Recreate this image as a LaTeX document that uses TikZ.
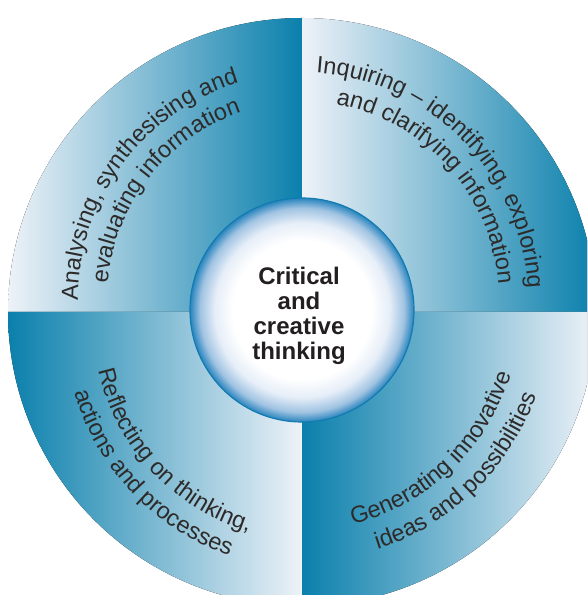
\documentclass[tikz,border=0pt]{standalone}
\usepackage{fontspec}
\usetikzlibrary{decorations.text}
\newfontfamily\arialfont{Liberation Sans}

\definecolor{qdark}{RGB}{10,128,172}
\definecolor{qmid}{RGB}{132,166,202}
\definecolor{qlight}{RGB}{238,242,248}
\definecolor{glowedge}{RGB}{40,132,190}
\definecolor{glowmid}{RGB}{160,195,226}
\definecolor{glowlight}{RGB}{230,238,248}
\definecolor{ringline}{RGB}{18,124,178}
\definecolor{labeltext}{RGB}{45,42,42}
\definecolor{coretext}{RGB}{35,31,32}

\pgfdeclareradialshading{coreglow}{\pgfpoint{0bp}{0bp}}{color(0bp)=(white); color(15.5bp)=(white); color(19.5bp)=(glowlight); color(22.8bp)=(glowmid); color(25bp)=(glowedge); color(50bp)=(glowedge)}

\newcommand{\quadfont}{\arialfont\fontsize{23.5}{28}\selectfont\color{labeltext}}

\begin{document}
\begin{tikzpicture}[x=1pt, y=1pt]
    % Styles
    \tikzstyle{faderight} = [left color=qlight, middle color=qmid, right color=qdark]
    \tikzstyle{fadeleft} = [left color=qdark, middle color=qmid, right color=qlight]
    \tikzstyle{core} = [align=center, text=coretext, font=\arialfont\bfseries\fontsize{24}{24.8}\selectfont]
    \tikzset{arctext/.style={decorate, decoration={text along path, text align=center, text={|\quadfont|#1}}}}

    \useasboundingbox (0,0) rectangle (587,595);
    \clip (0,0) rectangle (587,595);

    % Centres
    \coordinate (O) at (302,283);
    \coordinate (hub) at (302,285);
    \coordinate (tl) at (305,295);
    \coordinate (tr) at (300,295);
    \coordinate (bl) at (312,273);
    \coordinate (br) at (302,283);

    % Quadrants
    \fill[faderight] (O) -- ++(180:294) arc[start angle=180, end angle=90, radius=294] -- cycle;
    \fill[faderight] (O) -- ++(90:294) arc[start angle=90, end angle=0, radius=294] -- cycle;
    \fill[fadeleft] (O) -- ++(180:294) arc[start angle=180, end angle=270, radius=294] -- cycle;
    \fill[fadeleft] (O) -- ++(270:294) arc[start angle=270, end angle=360, radius=294] -- cycle;

    % Labels along the arcs
    \path[arctext={Analysing, synthesising and}] ([shift={(198.5:227)}]tl) arc[start angle=198.5, end angle=88.5, radius=227];
    \path[arctext={evaluating information}] ([shift={(197:198)}]tl) arc[start angle=197, end angle=87, radius=198];
    \path[arctext={Inquiring – identifying, exploring}] ([shift={(99.4:228)}]tr) arc[start angle=99.4, end angle=-10.6, radius=228];
    \path[arctext={and clarifying information}] ([shift={(97:199)}]tr) arc[start angle=97, end angle=-13, radius=199];
    \path[arctext={Reflecting on thinking,}] ([shift={(168:219)}]bl) arc[start angle=168, end angle=278, radius=219];
    \path[arctext={actions and processes}] ([shift={(168.5:248)}]bl) arc[start angle=168.5, end angle=278.5, radius=248];
    \path[arctext={Generating innovative}] ([shift={(258.5:218)}]br) arc[start angle=258.5, end angle=368.5, radius=218];
    \path[arctext={ideas and possibilities}] ([shift={(259:249)}]br) arc[start angle=259, end angle=369, radius=249];

    % Centre disc
    \fill[shading=coreglow] (hub) circle[radius=112];
    \draw[ringline, line width=1.2pt] (hub) circle[radius=112];
    \node[core] (core) at (299,279.2) {Critical\\and\\creative\\thinking};
\end{tikzpicture}
\end{document}
